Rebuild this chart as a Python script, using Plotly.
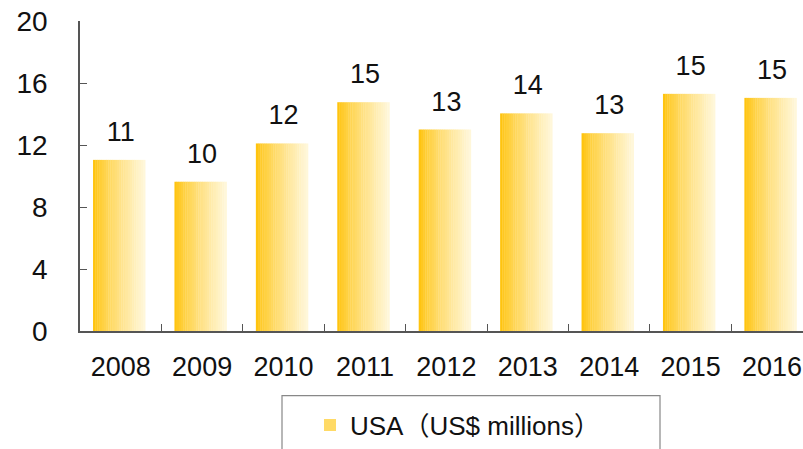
import plotly.graph_objects as go

years = ["2008", "2009", "2010", "2011", "2012", "2013", "2014", "2015", "2016"]
usa_values = [11.04, 9.63, 12.1, 14.76, 13.0, 14.04, 12.76, 15.3, 15.04]
series_name = "USA（US$ millions）"
y_ticks = [0, 4, 8, 12, 16, 20]

FONT = "Liberation Sans, Arial, Noto Sans CJK SC, sans-serif"
N = 24
bar_w = 0.64
c0 = (255, 196, 15)
c1 = (255, 247, 218)

fig = go.Figure()
for i in range(N):
    t = i / (N - 1)
    t2 = t ** 0.8
    col = tuple(round(c0[k] + (c1[k] - c0[k]) * t2) for k in range(3))
    fig.add_trace(go.Bar(
        x=years, y=usa_values,
        width=bar_w / N * 1.15,
        offset=-bar_w / 2 + i * bar_w / N - 0.02,
        marker=dict(color="rgb(%d,%d,%d)" % col, line=dict(width=0)),
        name=series_name,
        showlegend=(i == N // 3),
        hoverinfo="skip",
    ))

# data labels
fig.add_trace(go.Scatter(
    x=years, y=usa_values,
    mode="markers+text",
    marker=dict(size=18, color="rgba(0,0,0,0)"),
    text=[f"{v:.0f}" for v in usa_values],
    textposition="top center",
    textfont=dict(family=FONT, size=27, color="#111111"),
    cliponaxis=False,
    showlegend=False,
    hoverinfo="skip",
))

fig.update_layout(
    width=803, height=449,
    margin=dict(l=80, r=0, t=21, b=116),
    barmode="overlay",
    plot_bgcolor="white", paper_bgcolor="white",
    font=dict(family=FONT, size=25, color="#111111"),
    showlegend=True,
    legend=dict(
        x=(310 - 80) / 723, xanchor="left",
        y=(333 - 404) / 312, yanchor="top",
        font=dict(family=FONT, size=26, color="#111111"),
        bgcolor="rgba(0,0,0,0)",
        borderwidth=0,
    ),
    xaxis=dict(
        type="category",
        range=[-0.5, 8.38],
        showline=True, linecolor="#555555", linewidth=1.5,
        ticks="inside", tickson="boundaries", ticklen=7, tickcolor="#555555",
        tickfont=dict(family=FONT, size=27, color="#111111"),
        showgrid=False, zeroline=False,
        ticklabelstandoff=11,
    ),
    yaxis=dict(
        range=[0, 20], tickvals=y_ticks,
        showline=True, linecolor="#555555", linewidth=1.5,
        ticks="inside", ticklen=7, tickcolor="#555555",
        tickfont=dict(family=FONT, size=28, color="#111111"),
        showgrid=False, zeroline=False,
        ticklabelstandoff=25,
    ),
    shapes=[dict(
        type="rect", xref="paper", yref="paper",
        x0=(282 - 80) / 723, x1=(660 - 80) / 723,
        y0=(333 - 470) / 312, y1=(333 - 398) / 312,
        line=dict(color="#888888", width=1.2),
        fillcolor="rgba(0,0,0,0)",
    )],
)

fig.write_html("out.html")
